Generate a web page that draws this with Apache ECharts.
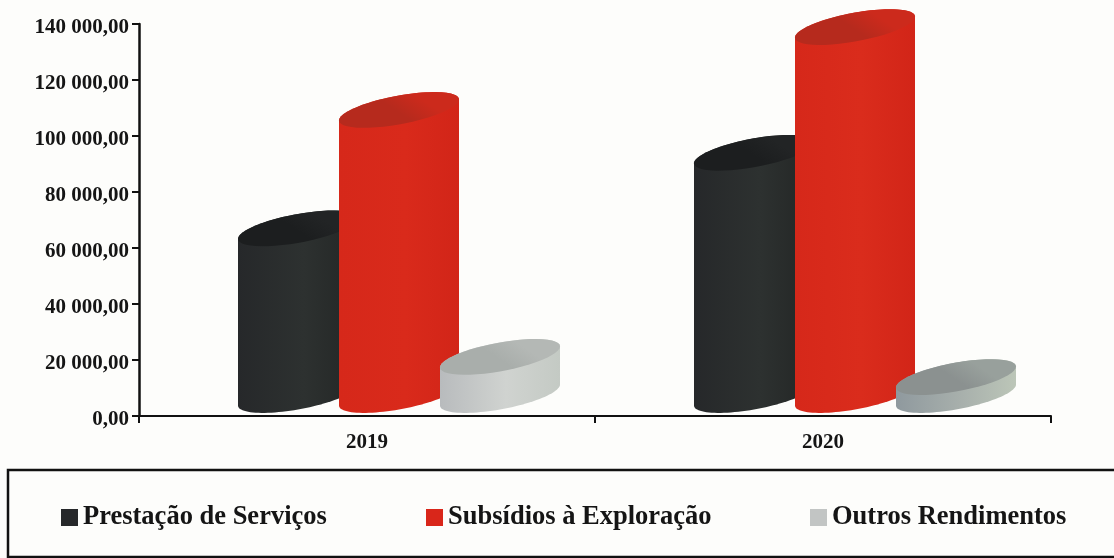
<!DOCTYPE html>
<html>
<head>
<meta charset="utf-8">
<style>html,body{margin:0;padding:0;background:#fdfdfb}#chart{width:1114px;height:558px}</style>
<script src="https://cdn.jsdelivr.net/npm/echarts@6/dist/echarts.min.js"></script>
</head>
<body>
<div id="chart"></div>
<script>
// Rendimentos por ano, drawn as tilted cylinders
const years = ['2019', '2020'];
const prestacao = [59500, 86500];
const subsidios = [101800, 131400];
const outros = [13600, 6400];
const yTicks = [0, 20000, 40000, 60000, 80000, 100000, 120000, 140000];

const FONT = '"Liberation Serif", serif';
const HALF_W = 60, TILT = 10.5, DEPTH = 14.5, BASE_LIFT = 21, STEP = 101, GROUP_SHIFT = 32;

// Closed outline sampled along an ellipse arc from t0 to t1
function arc(cx, cy, t0, t1) {
  const pts = [];
  for (let i = 0; i <= 48; i++) {
    const t = t0 + (t1 - t0) * i / 48;
    pts.push([cx + HALF_W * Math.cos(t), cy - TILT * Math.cos(t) + DEPTH * Math.sin(t)]);
  }
  return pts;
}

function cylinderSeries(name, values, slot, paint) {
  return {
    name, type: 'custom', coordinateSystem: 'cartesian2d',
    itemStyle: { color: paint.legend },
    encode: { x: 0, y: 1 },
    data: values.map((v, i) => [years[i], v]),
    z: 2 + slot,
    renderItem(params, api) {
      const i = params.dataIndex;
      const top = api.coord([api.value(0), api.value(1)]);
      const zero = api.coord([api.value(0), 0]);
      const cx = top[0] + GROUP_SHIFT + slot * STEP;
      const topY = top[1] - BASE_LIFT, baseY = zero[1] - BASE_LIFT;
      const wall = arc(cx, topY, 0, -Math.PI).concat(arc(cx, baseY, Math.PI, 0));
      const body = paint.body[i];
      const cap = paint.cap[i];
      return {
        type: 'group',
        children: [
          { type: 'polygon', shape: { points: wall },
            style: { fill: { type: 'linear', x: 0, y: 0, x2: 1, y2: 0,
              colorStops: [{ offset: 0, color: body[0] }, { offset: 0.55, color: body[1] }, { offset: 1, color: body[2] }] } } },
          // Cap shades from its far rim towards the darker near side
          { type: 'polygon', shape: { points: arc(cx, topY, 0, 2 * Math.PI) },
            style: { fill: { type: 'linear', x: 0.6, y: 0, x2: 0.4, y2: 1,
              colorStops: [{ offset: 0, color: cap[1] }, { offset: 0.55, color: cap[0] }, { offset: 1, color: cap[0] }] } } }
        ]
      };
    }
  };
}

const chart = echarts.init(document.getElementById('chart'), null, { renderer: 'canvas' });
const legendText = { fontFamily: FONT, fontWeight: 'bold', fontSize: 26.5, color: '#151515' };
const legendAt = (name, left) => ({
  data: [name], left, top: 504, padding: 0, itemWidth: 17, itemHeight: 17, itemGap: 6,
  icon: 'rect', textStyle: legendText, selectedMode: false
});

chart.setOption({
  animation: false,
  backgroundColor: '#fdfdfb',
  grid: { left: 139, right: 63, top: 24, bottom: 142 },
  legend: [
    legendAt('Prestação de Serviços', 61),
    legendAt('Subsídios à Exploração', 426),
    legendAt('Outros Rendimentos', 810)
  ],
  xAxis: {
    type: 'category', data: years,
    axisLine: { lineStyle: { color: '#111', width: 2 } },
    axisTick: { show: true, length: 7, alignWithLabel: false, lineStyle: { color: '#111', width: 2 } },
    axisLabel: { fontFamily: FONT, fontWeight: 'bold', fontSize: 21, color: '#151515', margin: 16 }
  },
  yAxis: {
    type: 'value', min: 0, max: 140000, interval: 20000,
    splitLine: { show: false },
    axisLine: { show: true, lineStyle: { color: '#111', width: 2.5 } },
    axisTick: { show: true, length: 7, lineStyle: { color: '#111', width: 2 } },
    axisLabel: {
      margin: 10,
      rich: { tick: { fontFamily: FONT, fontWeight: 'bold', fontSize: 21, color: '#151515', padding: [7, 0, 0, 0] } },
      formatter: v => '{tick|' + (yTicks.includes(v) ? (v === 0 ? '0,00' : String(v / 1000) + ' 000,00') : '') + '}'
    }
  },
  graphic: [{
    type: 'rect', silent: true,
    shape: { x: 8, y: 470, width: 1110, height: 87 },
    style: { fill: 'none', stroke: '#111', lineWidth: 2.5 }
  }],
  series: [
    cylinderSeries('Prestação de Serviços', prestacao, -1, {
      legend: '#26282a',
      body: [['#26282a', '#2d3130', '#232625'], ['#26282a', '#2d3130', '#232625']],
      cap: [['#1c1e1f', '#222425'], ['#1c1e1f', '#222425']]
    }),
    cylinderSeries('Subsídios à Exploração', subsidios, 0, {
      legend: '#d9261a',
      body: [['#d6281a', '#d92a1b', '#d22518'], ['#d6281a', '#da2c1c', '#d22518']],
      cap: [['#b62a1d', '#cc2a1c'], ['#b62a1d', '#cc2a1c']]
    }),
    cylinderSeries('Outros Rendimentos', outros, 1, {
      legend: '#c2c5c4',
      body: [['#b8bbbd', '#d0d3d0', '#c4cac4'], ['#8f999e', '#a8b0ac', '#bcc6b8']],
      cap: [['#a9aeab', '#b4b8b5'], ['#8b9190', '#98a09c']]
    })
  ]
});
</script>
</body>
</html>
